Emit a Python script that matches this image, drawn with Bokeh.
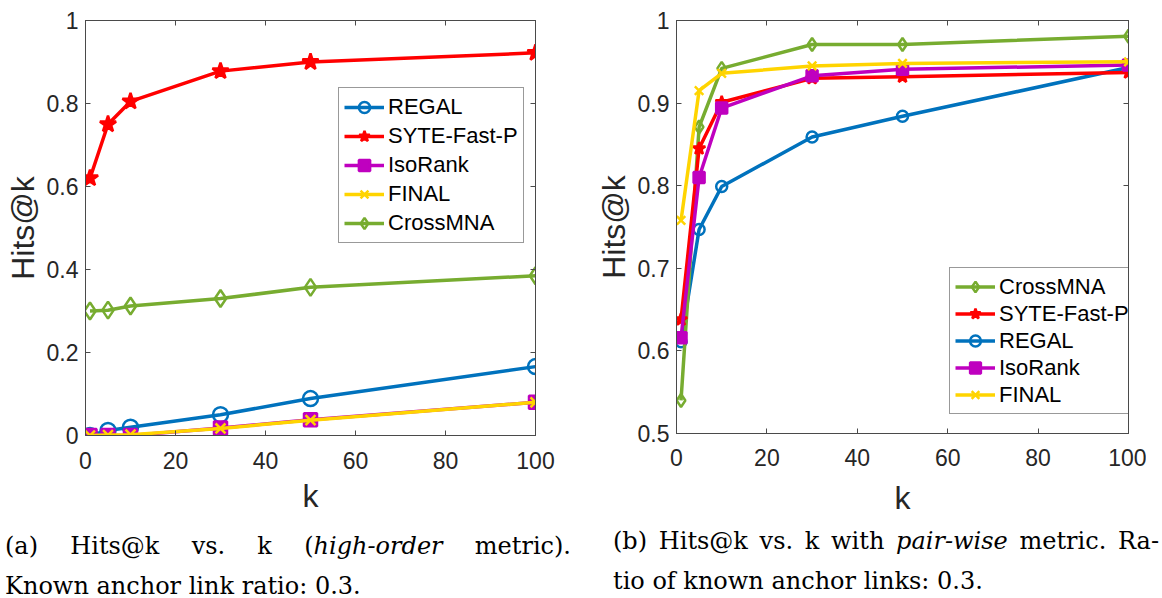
from bokeh.plotting import figure
from bokeh.models import Range1d, FixedTicker, LinearAxis, Legend, LegendItem, Div
from bokeh.layouts import row, column
from bokeh.embed import file_html
from bokeh.resources import INLINE

# ---------------- data ----------------
K = [1, 5, 10, 30, 50, 100]

# (a) high-order metric
a_regal = [0.0, 0.012, 0.02, 0.05, 0.089, 0.166]
a_syte = [0.62, 0.75, 0.805, 0.878, 0.90, 0.922]
a_isorank = [0.0, 0.0, 0.0, 0.018, 0.038, 0.08]
a_final = [0.0, 0.001, 0.002, 0.017, 0.037, 0.08]
a_crossmna = [0.30, 0.302, 0.312, 0.33, 0.357, 0.385]

# (b) pair-wise metric
b_crossmna = [0.54, 0.871, 0.942, 0.971, 0.971, 0.981]
b_syte = [0.638, 0.845, 0.901, 0.930, 0.932, 0.937]
b_regal = [0.611, 0.747, 0.799, 0.859, 0.884, 0.943]
b_isorank = [0.616, 0.81, 0.894, 0.933, 0.941, 0.946]
b_final = [0.758, 0.915, 0.936, 0.945, 0.948, 0.95]

x_ticks = [0, 20, 40, 60, 80, 100]
a_yticks = [0, 0.2, 0.4, 0.6, 0.8, 1.0]
a_ylabels = ["0", "0.2", "0.4", "0.6", "0.8", "1"]
b_yticks = [0.5, 0.6, 0.7, 0.8, 0.9, 1.0]
b_ylabels = ["0.5", "0.6", "0.7", "0.8", "0.9", "1"]

C_REGAL = "#0072BD"
C_SYTE = "#FF0000"
C_ISO = "#BF00BF"
C_FINAL = "#FFD400"
C_CROSS = "#77AC30"

AX = "#4a4a4a"
TXT = "#262626"
FONT = "Liberation Sans"


def style_axis(ax, ticks=None):
    ax.axis_line_color = AX
    ax.major_tick_line_color = AX
    ax.major_tick_in = 5
    ax.major_tick_out = 0
    ax.minor_tick_line_color = None
    ax.major_label_text_font = FONT
    ax.major_label_text_color = TXT
    if ticks is None:
        ax.major_label_text_font_size = "23px"
    else:
        # tick marks only (MATLAB box): empty labels
        ax.major_label_overrides = {t: "" for t in ticks}
        ax.major_label_text_font_size = "1px"
        ax.major_label_standoff = 0


def make_fig(width, height, yr, yticks, ylabels, mb, xstand, kstand):
    p = figure(width=width, height=height, x_range=Range1d(0, 100), y_range=Range1d(*yr),
               output_backend="svg", toolbar_location=None,
               min_border_left=mb[0], min_border_right=mb[1],
               min_border_top=mb[2], min_border_bottom=mb[3])
    p.grid.visible = False
    p.outline_line_color = AX
    p.outline_line_width = 1
    p.background_fill_color = "white"
    p.border_fill_color = "white"
    p.xaxis.ticker = FixedTicker(ticks=x_ticks)
    p.yaxis.ticker = FixedTicker(ticks=yticks)
    p.yaxis.major_label_overrides = {t: l for t, l in zip(yticks, ylabels)}
    p.xaxis.major_label_overrides = {t: str(t) for t in x_ticks}
    for ax in p.xaxis + p.yaxis:
        style_axis(ax)
        ax.axis_label_text_font = FONT
        ax.axis_label_text_font_style = "normal"
        ax.axis_label_text_color = TXT
        ax.axis_label_text_font_size = "32px"
    p.xaxis.axis_label = "k"
    p.yaxis.axis_label = "Hits@k"
    p.xaxis.major_label_standoff = xstand
    p.xaxis.axis_label_standoff = kstand
    p.yaxis.major_label_standoff = 7
    p.yaxis.axis_label_standoff = 3
    top = LinearAxis(ticker=FixedTicker(ticks=x_ticks))
    style_axis(top, ticks=x_ticks)
    p.add_layout(top, "above")
    right = LinearAxis(ticker=FixedTicker(ticks=yticks))
    style_axis(right, ticks=yticks)
    p.add_layout(right, "right")
    return p


def series(p, y, color, marker, size, fill, lw=3.5):
    r1 = p.line(K, y, line_color=color, line_width=lw)
    r2 = p.scatter(K, y, marker=marker, size=size, line_color=color, line_width=2.5,
                   fill_color=(color if fill else None))
    return [r1, r2]


def make_legend(items, loc, gh, sp):
    lg = Legend(items=items, location=loc)
    lg.label_text_font = FONT
    lg.label_text_font_size = "22px"
    lg.label_text_color = "black"
    lg.glyph_width = 40
    lg.glyph_height = gh
    lg.label_height = gh
    lg.label_standoff = 4
    lg.padding = 5
    lg.spacing = sp
    lg.margin = 0
    lg.border_line_color = "#333333"
    lg.border_line_width = 1
    lg.background_fill_color = "white"
    lg.background_fill_alpha = 1
    return lg


# ---------------- (a) ----------------
p1 = make_fig(582, 536, (0, 1), a_yticks, a_ylabels, (85, 47, 11, 100), 16, 6)
ra_cross = series(p1, a_crossmna, C_CROSS, "diamond", 17, False)
ra_regal = series(p1, a_regal, C_REGAL, "circle", 15, False)
ra_syte = series(p1, a_syte, C_SYTE, "star", 17, True)
ra_iso = series(p1, a_isorank, C_ISO, "square", 13, True)
ra_final = series(p1, a_final, C_FINAL, "x", 14, False)
p1.add_layout(make_legend([
    LegendItem(label="REGAL", renderers=ra_regal),
    LegendItem(label="SYTE-Fast-P", renderers=ra_syte),
    LegendItem(label="IsoRank", renderers=ra_iso),
    LegendItem(label="FINAL", renderers=ra_final),
    LegendItem(label="CrossMNA", renderers=ra_cross),
], (253, 192), 28, 1))

# ---------------- (b) ----------------
p2 = make_fig(564, 534, (0.5, 1), b_yticks, b_ylabels, (94, 18, 20, 101), 15, 11)
rb_regal = series(p2, b_regal, C_REGAL, "circle", 11, False)
rb_cross = series(p2, b_crossmna, C_CROSS, "diamond", 13, False)
rb_syte = series(p2, b_syte, C_SYTE, "star", 13, True)
rb_iso = series(p2, b_isorank, C_ISO, "square", 11, True)
rb_final = series(p2, b_final, C_FINAL, "x", 12, False)
p2.add_layout(make_legend([
    LegendItem(label="CrossMNA", renderers=rb_cross),
    LegendItem(label="SYTE-Fast-P", renderers=rb_syte),
    LegendItem(label="REGAL", renderers=rb_regal),
    LegendItem(label="IsoRank", renderers=rb_iso),
    LegendItem(label="FINAL", renderers=rb_final),
], (273, 19), 27, 0))

# ---------------- captions ----------------
cap_style = "font-family:'DejaVu Serif'; font-size:24px; color:#000;"
cap_a = Div(width=582, height=46, text=(
    f"<div style=\"{cap_style} margin-top:-12px; width:566px;\">"
    "<div style='line-height:35px; text-align:justify; text-align-last:justify;'>(a) Hits@k vs. k (<i>high-order</i> metric).</div>"
    "<div style='line-height:14px; margin-top:15px;'>Known anchor link ratio: 0.3.</div></div>"))
cap_b = Div(width=564, height=46, text=(
    f"<div style=\"{cap_style} margin-top:-17px; margin-left:16px; width:546px;\">"
    "<div style='line-height:35px; text-align:justify; text-align-last:justify;'>(b) Hits@k vs. k with <i>pair-wise</i> metric. Ra-</div>"
    "<div style='line-height:14px; margin-top:15px;'>tio of known anchor links: 0.3.</div></div>"))

layout = column(row(p1, p2), row(cap_a, cap_b))

with open("out.html", "w") as f:
    f.write(file_html(layout, INLINE))
